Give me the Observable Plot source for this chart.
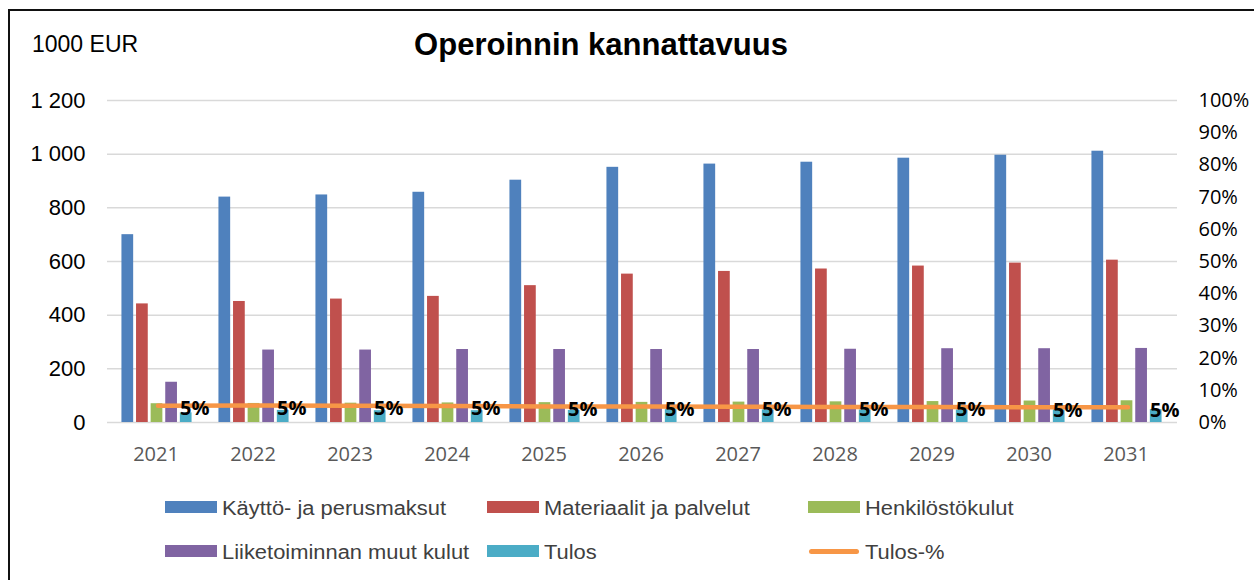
<!DOCTYPE html>
<html>
<head>
<meta charset="utf-8">
<script src="https://cdn.jsdelivr.net/npm/d3@7"></script>
<script src="https://cdn.jsdelivr.net/npm/@observablehq/plot@0.6"></script>
<style>
  body { margin: 0; background: #fff; }
  #wrap { position: relative; width: 1254px; height: 580px; overflow: hidden; background: #fff; }
  #frame { position: absolute; left: 8px; top: 9px; right: -10px; bottom: -10px;
           border-left: 2.5px solid #111; border-top: 2.5px solid #111; pointer-events: none; }
  #chart { position: absolute; left: 0; top: 0; }
  .t { position: absolute; white-space: nowrap; line-height: 1; color: #000; }
  #title { font: bold 31px "Liberation Sans", Arial, sans-serif; left: 0; width: 1202px; text-align: center; top: 27px; }
  #unit { font: 23px "Liberation Sans", Arial, sans-serif; left: 32px; top: 30.5px; }
  .sw { position: absolute; width: 52px; height: 12px; }
  .ln { position: absolute; width: 50px; height: 4.5px; border-radius: 2.5px; }
  .lg { position: absolute; white-space: nowrap; line-height: 1; color: #404040;
        font: 20px "Liberation Sans", Arial, sans-serif;
        transform-origin: 0 50%; }
</style>
</head>
<body>
<div id="wrap">
  <div id="chart"></div>
  <div class="t" id="title">Operoinnin kannattavuus</div>
  <div class="t" id="unit">1000 EUR</div>
  <div id="legend"></div>
  <div id="frame"></div>
</div>
<script>
// ---- data ----
const years = ["2021","2022","2023","2024","2025","2026","2027","2028","2029","2030","2031"];
const kaytto      = [700, 840, 848, 858, 903, 951, 963, 970, 985, 996, 1011];
const materiaalit = [442, 451, 460, 470, 510, 553, 563, 572, 583, 594, 605];
const henkilosto  = [70, 71, 72, 73, 74, 75, 76, 77, 78, 80, 81];
const muut        = [150, 270, 270, 272, 272, 272, 272, 273, 275, 275, 276];
const tulos       = [36, 45, 44, 44, 45, 48, 47, 47, 47, 47, 48];
const tulosPct    = [5.2, 5.3, 5.2, 5.1, 5.0, 5.0, 4.9, 4.8, 4.8, 4.7, 4.7];
const barSeriesNames = ["Käyttö- ja perusmaksut", "Materiaalit ja palvelut", "Henkilöstökulut", "Liiketoiminnan muut kulut", "Tulos"];
const lineSeriesName = "Tulos-%";
const barColors = ["#4F81BD", "#C0504D", "#9BBB59", "#8064A2", "#4BACC6"];
const lineColor = "#F79646";
const leftTicks  = [0, 200, 400, 600, 800, 1000, 1200];
const rightTicks = [0, 10, 20, 30, 40, 50, 60, 70, 80, 90, 100];

// ---- layout ----
const W = 1254, H = 580;
const mL = 107, mR = 77, mT = 100, mB = 158;
const bw = (W - mL - mR) / years.length;
const barW = 12, stride = 14.6;
const yMax = leftTicks[leftTicks.length - 1];
const pk = yMax / rightTicks[rightTicks.length - 1]; // percent -> left-axis units

const seriesVals = [kaytto, materiaalit, henkilosto, muut, tulos];
const barMarks = seriesVals.map((vals, k) => {
  const off = bw / 2 + (k - 2) * stride - barW / 2 - 1;
  return Plot.barY(years.map((y, i) => ({year: y, value: vals[i]})), {
    x: "year", y: "value", fill: barColors[k],
    insetLeft: off, insetRight: bw - off - barW
  });
});
const pctRows = years.map((y, i) => ({year: y, pct: tulosPct[i]}));

const chart = Plot.plot({
  width: W, height: H,
  marginLeft: mL, marginRight: mR, marginTop: mT, marginBottom: mB,
  x: {type: "band", domain: years, padding: 0, axis: null},
  y: {domain: [0, yMax], axis: null, label: null},
  style: {background: "transparent", color: "#000", fontFamily: "Liberation Sans, Arial, sans-serif", overflow: "visible"},
  marks: [
    Plot.gridY(leftTicks, {stroke: "#d9d9d9", strokeOpacity: 1, strokeWidth: 1.5}),
    ...barMarks,
    Plot.line(pctRows, {x: "year", y: d => d.pct * pk, stroke: lineColor, strokeWidth: 4.5, strokeLinecap: "round", strokeLinejoin: "round"}),
    Plot.text(pctRows, {x: "year", y: d => d.pct * pk, text: d => Math.round(d.pct) + "%",
      textAnchor: "start", dx: 22, dy: 3, fontWeight: "bold", fontSize: 20, fill: "#000", fontFamily: "Open Sans"}),
    Plot.axisY(leftTicks, {anchor: "left", tickSize: 0, tickPadding: 22, label: null,
      tickFormat: d => d3.format(",")(d).replace(/,/g, " "), fontSize: 22, fill: "#000"}),
    Plot.axisY(rightTicks.map(p => p * pk), {anchor: "right", tickSize: 0, tickPadding: 21, label: null,
      tickFormat: d => Math.round(d / pk) + "%", fontSize: 20, fill: "#000", fontFamily: "Open Sans"}),
    Plot.axisX({tickSize: 0, tickPadding: 24, label: null, fontSize: 20, fill: "#595959", fontFamily: "Open Sans", dx: -2})
  ]
});
document.getElementById("chart").appendChild(chart);

// ---- legend ----
const legend = document.getElementById("legend");
const cols = [165, 487, 808], rowsY = [501, 545];
const items = barSeriesNames.map((n, k) => ({name: n, color: barColors[k], line: false}))
  .concat([{name: lineSeriesName, color: lineColor, line: true}]);
const labels = [];
items.forEach((it, i) => {
  const x = cols[i % 3], y = rowsY[Math.floor(i / 3)];
  const sw = document.createElement("div");
  if (it.line) { sw.className = "ln"; sw.style.left = (x + 1) + "px"; sw.style.top = (y + 4) + "px"; }
  else { sw.className = "sw"; sw.style.left = x + "px"; sw.style.top = y + "px"; }
  sw.style.background = it.color;
  legend.appendChild(sw);
  const lb = document.createElement("div");
  lb.className = "lg";
  lb.textContent = it.name;
  lb.style.left = (x + 57) + "px";
  lb.style.top = (y - 4) + "px";
  legend.appendChild(lb);
  labels.push(lb);
});
// match the text width of the original legend
const w0 = labels[0].getBoundingClientRect().width;
const sx = 224 / w0;
labels.forEach(l => l.style.transform = `scaleX(${sx})`);
</script>
</body>
</html>
